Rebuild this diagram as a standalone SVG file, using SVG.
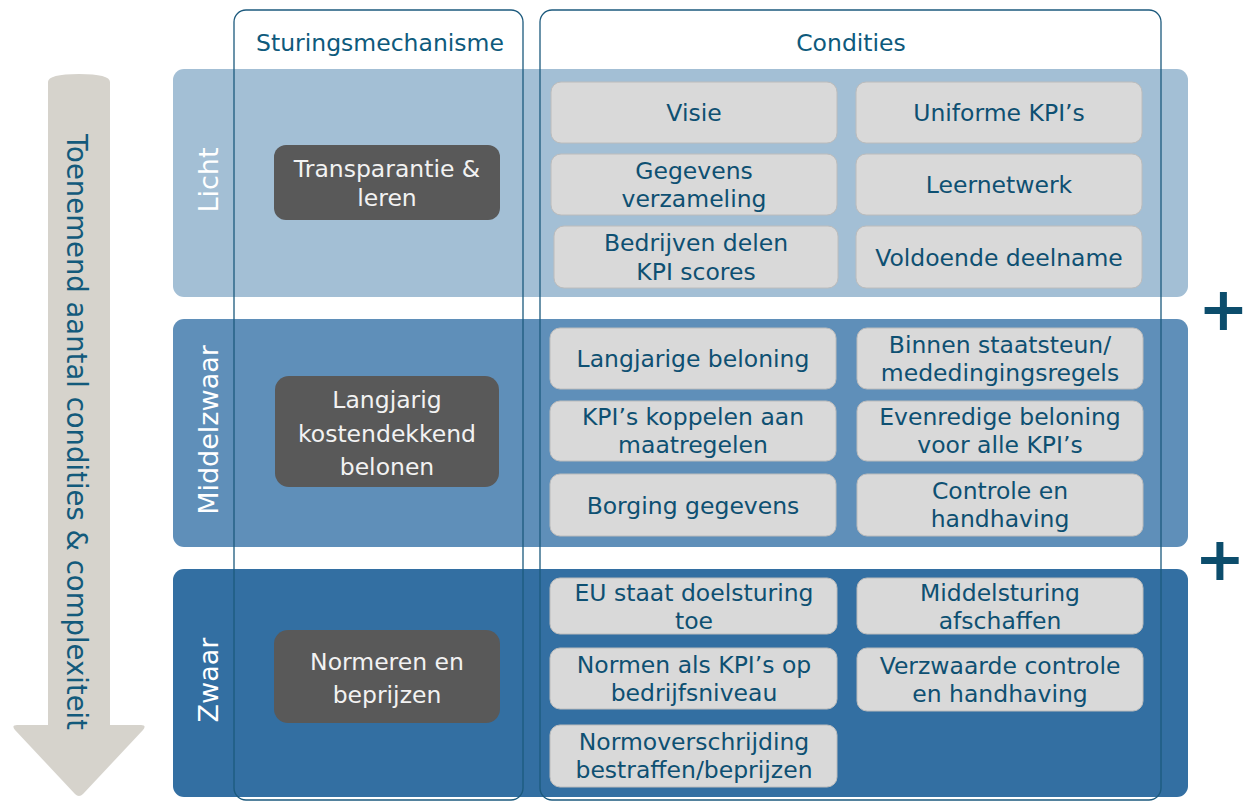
<svg xmlns="http://www.w3.org/2000/svg" width="1249" height="801" viewBox="0 0 1249 801">
<style>
text{font-family:"DejaVu Sans","Noto Sans",sans-serif;}
.cond{fill:#d9d9d9;stroke:#bcbcbc;stroke-width:1}
.ct{font-size:23.5px;fill:#0e5072;text-anchor:middle}
.dark{fill:#595959}
.dt{font-size:23.5px;fill:#f2f2f2;text-anchor:middle}
.lvl{font-size:27px;fill:#ffffff;text-anchor:middle}
.col{fill:none;stroke:#1c5a7d;stroke-width:1.3}
.hd{font-size:23.5px;fill:#0e5a7c;text-anchor:middle}
.plus{font-size:60px;font-weight:bold;fill:#0c4d6c;text-anchor:middle}
</style>
<g id="arrow">
<path d="M48,82 Q48,74 79,74 Q110,74 110,82 L110,725 L141,725 Q147,725 143,730 L83,794 Q79,798 75,794 L15,730 Q11,725 17,725 L48,725 Z" fill="#d6d3cc"/>
<text transform="translate(77,432) rotate(90)" y="10" style="font-size:27.5px;fill:#135a7b;text-anchor:middle">Toenemend aantal condities &amp; complexiteit</text>
</g>
<g id="band-licht">
<rect x="173" y="69" width="1015" height="228" rx="11" fill="#a3bfd5"/>
<text class="lvl" transform="translate(208,180) rotate(-90)" y="10">Licht</text>
</g>
<g id="band-middelzwaar">
<rect x="173" y="319" width="1015" height="228" rx="11" fill="#5f8fb9"/>
<text class="lvl" transform="translate(208,430) rotate(-90)" y="10">Middelzwaar</text>
</g>
<g id="band-zwaar">
<rect x="173" y="569" width="1015" height="228" rx="11" fill="#336fa2"/>
<text class="lvl" transform="translate(208,680) rotate(-90)" y="10">Zwaar</text>
</g>
<g id="col-sturing">
<rect class="col" x="234" y="10" width="289" height="790" rx="12"/>
<text class="hd" x="380" y="51">Sturingsmechanisme</text>
</g>
<g id="col-condities">
<rect class="col" x="540" y="10" width="621" height="790" rx="12"/>
<text class="hd" x="851" y="51">Condities</text>
</g>
<g id="mech-transparantie">
<rect class="dark" x="274" y="145" width="226" height="75" rx="12"/>
<text class="dt" x="387" y="177">Transparantie &amp;</text>
<text class="dt" x="387" y="206">leren</text>
</g>
<g id="mech-langjarig">
<rect class="dark" x="275" y="376" width="224" height="111" rx="14"/>
<text class="dt" x="387" y="408">Langjarig</text>
<text class="dt" x="387" y="442">kostendekkend</text>
<text class="dt" x="387" y="475">belonen</text>
</g>
<g id="mech-normeren">
<rect class="dark" x="274" y="630" width="226" height="93" rx="14"/>
<text class="dt" x="387" y="670">Normeren en</text>
<text class="dt" x="387" y="703">beprijzen</text>
</g>
<g id="c-visie"><rect class="cond" x="551" y="82" width="286" height="61" rx="10"/><text class="ct" x="694" y="121">Visie</text></g>
<g id="c-uniforme"><rect class="cond" x="856" y="82" width="286" height="61" rx="10"/><text class="ct" x="999" y="121">Uniforme KPI’s</text></g>
<g id="c-gegevens"><rect class="cond" x="551" y="154" width="286" height="61" rx="10"/><text class="ct" x="694" y="179">Gegevens</text><text class="ct" x="694" y="207">verzameling</text></g>
<g id="c-leernetwerk"><rect class="cond" x="856" y="154" width="286" height="61" rx="10"/><text class="ct" x="999" y="193">Leernetwerk</text></g>
<g id="c-bedrijven"><rect class="cond" x="554" y="226" width="284" height="62" rx="10"/><text class="ct" x="696" y="251">Bedrijven delen</text><text class="ct" x="696" y="280">KPI scores</text></g>
<g id="c-voldoende"><rect class="cond" x="856" y="226" width="286" height="62" rx="10"/><text class="ct" x="999" y="266">Voldoende deelname</text></g>
<g id="c-langjarige"><rect class="cond" x="550" y="328" width="286" height="61" rx="10"/><text class="ct" x="693" y="367">Langjarige beloning</text></g>
<g id="c-binnen"><rect class="cond" x="857" y="328" width="286" height="61" rx="10"/><text class="ct" x="1000" y="353">Binnen staatsteun/</text><text class="ct" x="1000" y="381">mededingingsregels</text></g>
<g id="c-koppelen"><rect class="cond" x="550" y="401" width="286" height="60" rx="10"/><text class="ct" x="693" y="425">KPI’s koppelen aan</text><text class="ct" x="693" y="453">maatregelen</text></g>
<g id="c-evenredige"><rect class="cond" x="857" y="401" width="286" height="60" rx="10"/><text class="ct" x="1000" y="425">Evenredige beloning</text><text class="ct" x="1000" y="453">voor alle KPI’s</text></g>
<g id="c-borging"><rect class="cond" x="550" y="474" width="286" height="62" rx="10"/><text class="ct" x="693" y="514">Borging gegevens</text></g>
<g id="c-controle"><rect class="cond" x="857" y="474" width="286" height="62" rx="10"/><text class="ct" x="1000" y="499">Controle en</text><text class="ct" x="1000" y="527">handhaving</text></g>
<g id="c-eu"><rect class="cond" x="550" y="578" width="287" height="56" rx="10"/><text class="ct" x="694" y="601">EU staat doelsturing</text><text class="ct" x="694" y="629">toe</text></g>
<g id="c-middelsturing"><rect class="cond" x="857" y="578" width="286" height="56" rx="10"/><text class="ct" x="1000" y="601">Middelsturing</text><text class="ct" x="1000" y="629">afschaffen</text></g>
<g id="c-normen"><rect class="cond" x="550" y="648" width="287" height="61" rx="10"/><text class="ct" x="694" y="673">Normen als KPI’s op</text><text class="ct" x="694" y="701">bedrijfsniveau</text></g>
<g id="c-verzwaarde"><rect class="cond" x="857" y="648" width="286" height="63" rx="10"/><text class="ct" x="1000" y="674">Verzwaarde controle</text><text class="ct" x="1000" y="702">en handhaving</text></g>
<g id="c-normoverschrijding"><rect class="cond" x="550" y="725" width="287" height="62" rx="10"/><text class="ct" x="694" y="750">Normoverschrijding</text><text class="ct" x="694" y="778">bestraffen/beprijzen</text></g>
<g id="plus-signs">
<text class="plus" x="1223.5" y="330">+</text>
<text class="plus" x="1220" y="580">+</text>
</g>
<g id="connectors"></g>
</svg>
